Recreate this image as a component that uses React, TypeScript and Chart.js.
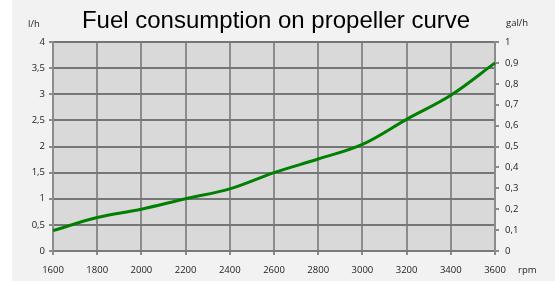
import React, { useEffect, useRef } from "react";
import { Chart, registerables } from "chart.js";

Chart.register(...registerables);

const rpm = [1600, 1800, 2000, 2200, 2400, 2600, 2800, 3000, 3200, 3400, 3600];
const litersPerHour = [0.39, 0.64, 0.8, 1.0, 1.19, 1.5, 1.76, 2.04, 2.52, 2.98, 3.6];
const chartTitle = "Fuel consumption on propeller curve";
const leftUnit = "l/h";
const rightUnit = "gal/h";
const xUnit = "rpm";

const fmt = (v: number) => {
  const r = Math.round(v * 10) / 10;
  return Number.isInteger(r) ? String(r) : r.toFixed(1).replace(".", ",");
};

const TICK_FONT = { family: "'Open Sans', 'DejaVu Sans', sans-serif", size: 9.5 };

const decorPlugin = {
  id: "decor",
  beforeDraw(chart: any) {
    const { ctx, chartArea } = chart;
    ctx.save();
    ctx.fillStyle = "#d9d9d9";
    ctx.fillRect(chartArea.left, chartArea.top, chartArea.right - chartArea.left, chartArea.bottom - chartArea.top);
    ctx.restore();
  },
  afterDraw(chart: any) {
    const { ctx, chartArea } = chart;
    ctx.save();
    ctx.fillStyle = "#000";
    ctx.textBaseline = "middle";
    ctx.textAlign = "center";
    ctx.font = "24px 'Liberation Sans', Arial, sans-serif";
    ctx.fillText(chartTitle, 264, 21);
    ctx.font = "9.5px 'Open Sans', 'DejaVu Sans', sans-serif";
    ctx.fillStyle = "#222";
    ctx.textAlign = "left";
    ctx.fillText(leftUnit, 16, 24);
    ctx.fillText(rightUnit, 494, 23);
    ctx.fillText(xUnit, 506, chartArea.bottom + 19);
    ctx.restore();
  },
};

export default function App() {
  const canvasRef = useRef<HTMLCanvasElement | null>(null);

  useEffect(() => {
    const canvas = canvasRef.current;
    if (!canvas) return;
    const chart = new Chart(canvas, {
      type: "line",
      data: {
        labels: rpm.map(String),
        datasets: [
          {
            data: litersPerHour,
            borderColor: "#008000",
            borderWidth: 3,
            pointRadius: 0,
            tension: 0.35,
            fill: false,
            yAxisID: "y",
          },
        ],
      },
      options: {
        animation: false,
        responsive: false,
        layout: { padding: { top: 42, left: 0, right: 0, bottom: 0 } },
        plugins: {
          legend: { display: false },
          title: { display: false },
          tooltip: { enabled: false },
        },
        scales: {
          x: {
            type: "category",
            offset: false,
            grid: { color: "#8c8c8c", lineWidth: 2, tickLength: 4, drawTicks: true, tickColor: "#8c8c8c" },
            border: { color: "#7a7a7a", width: 2 },
            ticks: { color: "#222", font: TICK_FONT, padding: 10, maxRotation: 0, autoSkip: false },
            afterFit: (s: any) => {
              s.height = 30;
            },
          },
          y: {
            position: "left",
            min: 0,
            max: 4,
            grid: { color: "#767676", lineWidth: 2, tickLength: 4, tickColor: "#8c8c8c" },
            border: { color: "#8c8c8c", width: 2 },
            ticks: { stepSize: 0.5, color: "#222", font: TICK_FONT, padding: 4, callback: (v: any) => fmt(Number(v)) },
            afterFit: (s: any) => {
              s.width = 41;
            },
          },
          y2: {
            position: "right",
            min: 0,
            max: 1,
            grid: { drawOnChartArea: false, tickLength: 4, tickColor: "#8c8c8c", lineWidth: 2 },
            border: { color: "#8c8c8c", width: 2 },
            ticks: { stepSize: 0.1, color: "#222", font: TICK_FONT, padding: 6, callback: (v: any) => fmt(Number(v)) },
            afterFit: (s: any) => {
              s.width = 60;
            },
          },
        },
      },
      plugins: [decorPlugin],
    } as any);
    return () => chart.destroy();
  }, []);

  return (
    <div style={{ position: "fixed", left: 12, top: 0, width: 543, height: 281, background: "#f2f2f2" }}>
      <canvas ref={canvasRef} width={543} height={281} style={{ display: "block" }} />
    </div>
  );
}
